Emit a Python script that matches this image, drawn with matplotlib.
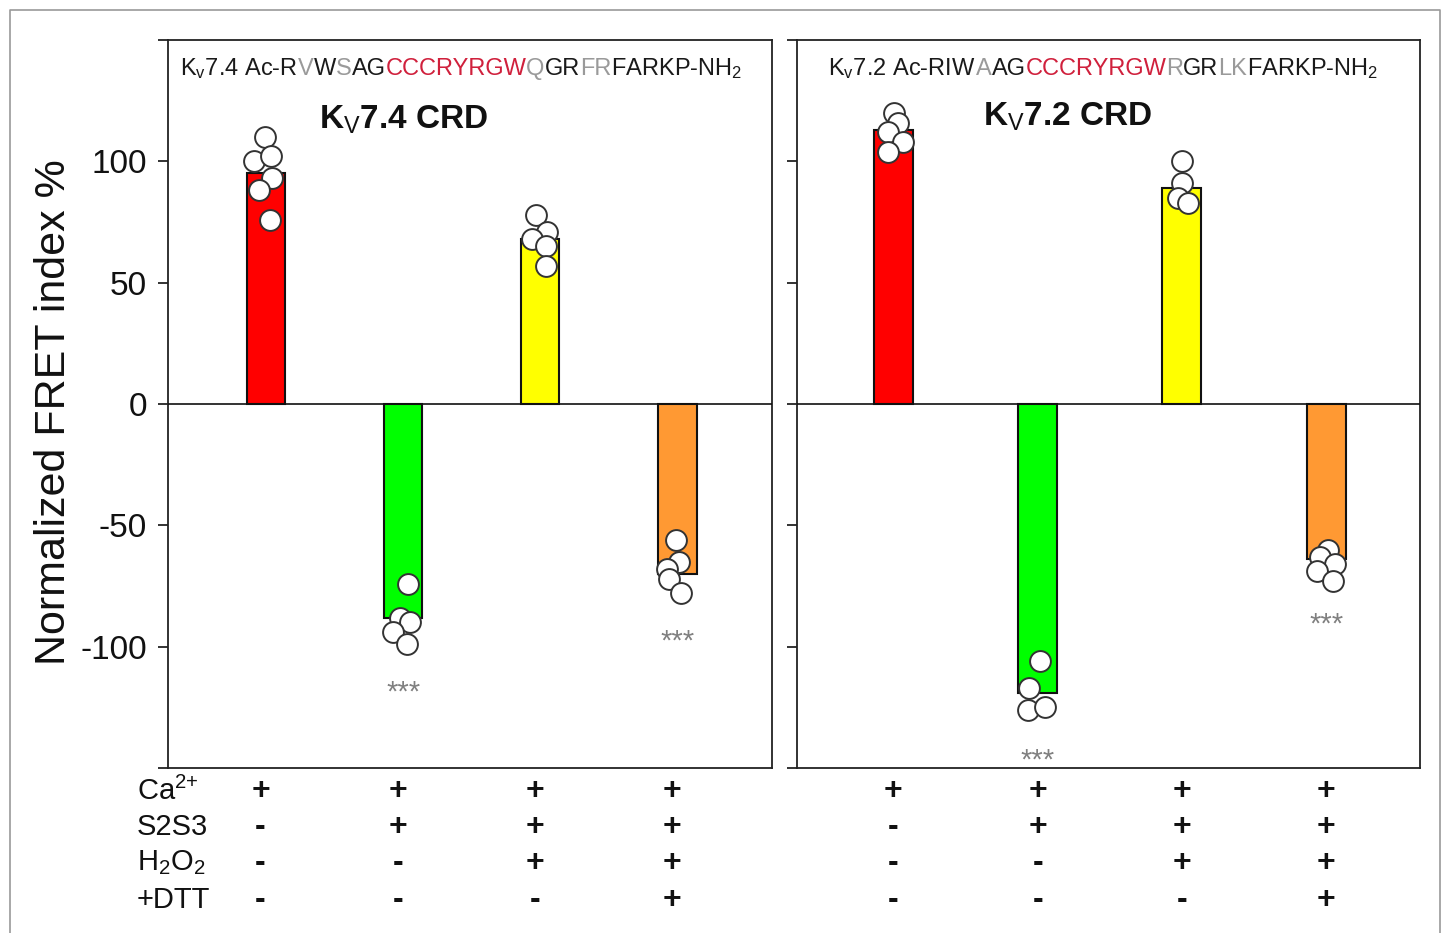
import matplotlib
matplotlib.use("Agg")
import matplotlib.pyplot as plt
from matplotlib.lines import Line2D
import matplotlib.transforms as mtransforms

plt.rcParams['font.family'] = ['Liberation Sans', 'DejaVu Sans']
plt.rcParams['mathtext.fontset'] = 'custom'
plt.rcParams['mathtext.rm'] = 'Liberation Sans'
plt.rcParams['mathtext.it'] = 'Liberation Sans:italic'
plt.rcParams['mathtext.bf'] = 'Liberation Sans:bold'

# ---------------- data ----------------
bar_colors = ['#ff0000', '#00ff00', '#ffff00', '#ff9933']

kv74_means = [95, -88, 68, -70]
kv74_points = [
    [110, 100, 102, 93, 88, 76],
    [-74, -88, -90, -94, -99],
    [78, 71, 68, 65, 57],
    [-56, -65, -68, -72, -78],
]
kv74_jitter = [
    [-0.007, -0.088, 0.036, 0.044, -0.051, 0.029],
    [0.036, -0.022, 0.051, -0.073, 0.029],
    [-0.029, 0.051, -0.058, 0.044, 0.044],
    [-0.007, 0.015, -0.073, -0.058, 0.029],
]
kv74_sig = ['', '***', '', '***']
kv74_sig_y = [0, -116, 0, -95]

kv72_means = [113, -119, 89, -64]
kv72_points = [
    [120, 116, 112, 108, 104],
    [-106, -117, -126, -125],
    [100, 91, 85, 83],
    [-60, -63, -66, -69, -73],
]
kv72_jitter = [
    [0.007, 0.035, -0.035, 0.069, -0.035],
    [0.014, -0.056, -0.069, 0.049],
    [0.0, 0.0, -0.028, 0.042],
    [0.014, -0.042, 0.063, -0.063, 0.049],
]
kv72_sig = ['', '***', '', '***']
kv72_sig_y = [0, -144, 0, -88]

row_labels = ['Ca$^{2{+}}$', 'S2S3', 'H$_2$O$_2$', '+DTT']
cond_ca = ['+', '+', '+', '+']
cond_s2s3 = ['-', '+', '+', '+']
cond_h2o2 = ['-', '-', '+', '+']
cond_dtt = ['-', '-', '-', '+']
conditions = [cond_ca, cond_s2s3, cond_h2o2, cond_dtt]

yticks = [-150, -100, -50, 0, 50, 100, 150]
ytick_labels = ['', '-100', '-50', '0', '50', '100', '']

K, G, R = '#1a1a1a', '#9a9a9a', '#d0203c'
kv74_seq = [('K$_\\mathrm{v}$7.4 Ac-R', K), ('V', G), ('W', K), ('S', G), ('AG', K),
            ('CCCRYRGW', R), ('Q', G), ('GR', K), ('FR', G), ('FARKP-NH$_2$', K)]
kv72_seq = [('K$_\\mathrm{v}$7.2 Ac-RIW', K), ('A', G), ('AG', K), ('CCCRYRGW', R),
            ('R', G), ('GR', K), ('LK', G), ('FARKP-NH$_2$', K)]

kv74_title = 'K$_\\mathrm{V}$7.4 CRD'
kv72_title = 'K$_\\mathrm{V}$7.2 CRD'

# ---------------- figure ----------------
W, H = 1448, 933
fig = plt.figure(figsize=(W / 100, H / 100), dpi=100)
fig.patch.set_facecolor('white')

def fx(px):
    return px / W

def fy(py):
    return 1 - py / H

ax1 = fig.add_axes([fx(168), fy(768), fx(772) - fx(168), fy(40) - fy(768)])
ax2 = fig.add_axes([fx(797), fy(768), fx(1420) - fx(797), fy(40) - fy(768)])

xpos = [1, 2, 3, 4]
row_y = [fy(791), fy(827), fy(863), fy(900)]


def draw_panel(ax, means, points, jitter, sig, sig_y, xlim, width, seq, seq_xy,
               title, title_xy, show_labels, sign_shift):
    ax.bar(xpos, means, width=width, color=bar_colors, edgecolor='#111111', linewidth=1.5, zorder=2)
    ax.axhline(0, color='#111111', linewidth=1.2, zorder=3)
    for i, (pts, jit) in enumerate(zip(points, jitter)):
        for v, j in zip(pts, jit):
            ax.plot(xpos[i] + j, v, 'o', ms=15, mfc='white', mec='#333333', mew=1.4, zorder=4)
    for i, s in enumerate(sig):
        if s:
            ax.annotate(s, xy=(xpos[i], sig_y[i]), xytext=(0, -11), textcoords='offset points',
                        ha='center', va='baseline', fontsize=21, color='#808080', zorder=5)
    ax.set_xlim(*xlim)
    ax.set_ylim(-150, 150)
    ax.set_xticks([])
    ax.set_yticks(yticks)
    if show_labels:
        ax.set_yticklabels(ytick_labels, fontsize=24)
    else:
        ax.set_yticklabels([])
    ax.tick_params(axis='y', direction='out', length=7, width=1.2, pad=8, colors='#111111')
    for sp in ax.spines.values():
        sp.set_linewidth(1.3)
        sp.set_color('#222222')
    # multicolour sequence
    prev = None
    for txt, col in seq:
        if prev is None:
            prev = ax.text(seq_xy[0], seq_xy[1], txt, transform=ax.transAxes, fontsize=17,
                           color=col, ha='left', va='baseline')
        else:
            prev = ax.annotate(txt, xy=(1, seq_xy[1]), xycoords=(prev, ax.transAxes),
                               fontsize=17, color=col, ha='left', va='baseline')
    ax.text(title_xy[0], title_xy[1], title, transform=ax.transAxes, fontsize=24,
            fontweight='bold', ha='center', va='center', color='#111111')
    # condition table
    trans = mtransforms.blended_transform_factory(ax.transData, fig.transFigure)
    for r, cond in enumerate(conditions):
        for i, c in enumerate(cond):
            ax.text(xpos[i] + sign_shift, row_y[r], c, transform=trans, ha='center', va='center',
                    fontsize=23, fontweight='bold', color='#111111')


draw_panel(ax1, kv74_means, kv74_points, kv74_jitter, kv74_sig, kv74_sig_y,
           (0.285, 4.69), 0.28, kv74_seq, (0.02, 0.952), kv74_title, (0.39, 0.89), True, -0.04)
draw_panel(ax2, kv72_means, kv72_points, kv72_jitter, kv72_sig, kv72_sig_y,
           (0.333, 4.65), 0.27, kv72_seq, (0.05, 0.952), kv72_title, (0.435, 0.895), False, 0.0)

for lab, y in zip(row_labels, row_y):
    fig.text(fx(137), y, lab, ha='left', va='center', fontsize=21, color='#111111')

fig.text(fx(54), fy(412), 'Normalized FRET index %', rotation=90, ha='center', va='center',
         fontsize=31, color='#111111')

# outer frame
fig.add_artist(Line2D([fx(10), fx(10), fx(1440), fx(1440)], [0, fy(10), fy(10), 0],
                      transform=fig.transFigure, color='#9a9a9a', linewidth=1.2))

fig.savefig('out.png', dpi=100, facecolor='white')
